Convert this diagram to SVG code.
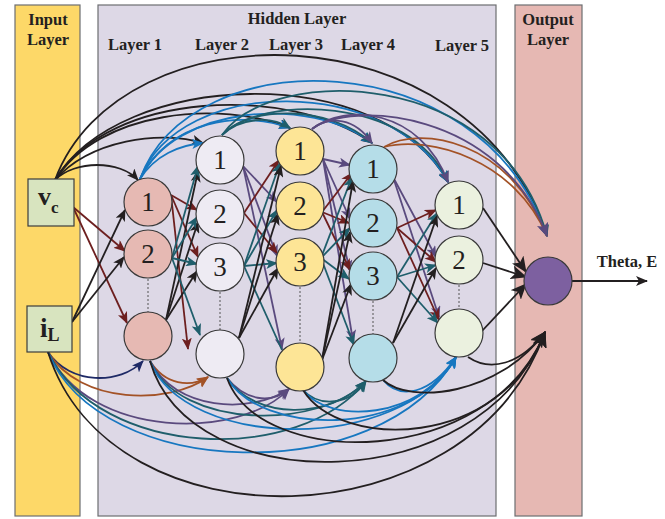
<svg xmlns="http://www.w3.org/2000/svg" width="665" height="519" viewBox="0 0 665 519">
<style>
.hdr{font-family:"Liberation Serif","Times New Roman",serif;font-weight:bold;font-size:16.5px;fill:#231F20;text-anchor:middle}
.num{font-family:"Liberation Serif","Times New Roman",serif;font-size:27px;fill:#231F20;text-anchor:middle}
.c path,.c line{fill:none;stroke-width:1.8}
.k{stroke:#231F20}.m{stroke:#6D1F1F}.t{stroke:#1F5E6B}.p{stroke:#5A4A7E}.b{stroke:#1777C0}.r{stroke:#A35226}.n{stroke:#1E2A66}
.nd{stroke:#3a3a3a;stroke-width:1.2}
.dot{stroke:#555;stroke-width:1;stroke-dasharray:2 2}
</style>
<defs>
<marker id="aK" markerUnits="userSpaceOnUse" markerWidth="12" markerHeight="10" refX="11" refY="5" orient="auto"><path d="M0,0 L12,5 L0,10 L3,5 z" fill="#231F20"/></marker>
<marker id="aM" markerUnits="userSpaceOnUse" markerWidth="12" markerHeight="10" refX="11" refY="5" orient="auto"><path d="M0,0 L12,5 L0,10 L3,5 z" fill="#6D1F1F"/></marker>
<marker id="aT" markerUnits="userSpaceOnUse" markerWidth="12" markerHeight="10" refX="11" refY="5" orient="auto"><path d="M0,0 L12,5 L0,10 L3,5 z" fill="#1F5E6B"/></marker>
<marker id="aP" markerUnits="userSpaceOnUse" markerWidth="12" markerHeight="10" refX="11" refY="5" orient="auto"><path d="M0,0 L12,5 L0,10 L3,5 z" fill="#5A4A7E"/></marker>
<marker id="aB" markerUnits="userSpaceOnUse" markerWidth="12" markerHeight="10" refX="11" refY="5" orient="auto"><path d="M0,0 L12,5 L0,10 L3,5 z" fill="#1777C0"/></marker>
<marker id="aR" markerUnits="userSpaceOnUse" markerWidth="12" markerHeight="10" refX="11" refY="5" orient="auto"><path d="M0,0 L12,5 L0,10 L3,5 z" fill="#A35226"/></marker>
<marker id="aN" markerUnits="userSpaceOnUse" markerWidth="12" markerHeight="10" refX="11" refY="5" orient="auto"><path d="M0,0 L12,5 L0,10 L3,5 z" fill="#1E2A66"/></marker>
<marker id="aKb" markerUnits="userSpaceOnUse" markerWidth="16" markerHeight="14" refX="15" refY="7" orient="auto"><path d="M0,0 L16,7 L0,14 L4,7 z" fill="#231F20"/></marker>
<marker id="aPb" markerUnits="userSpaceOnUse" markerWidth="14" markerHeight="12" refX="13" refY="6" orient="auto"><path d="M0,0 L14,6 L0,12 L3,6 z" fill="#5A4A7E"/></marker>
</defs>

<g id="panels">
<rect x="15" y="5" width="65" height="511" fill="#FDD868" stroke="#6D6E71" stroke-width="1.2"/>
<rect x="98" y="5" width="398" height="511" fill="#DDD8E6" stroke="#6D6E71" stroke-width="1.2"/>
<rect x="515" y="5" width="67" height="511" fill="#E6B8B3" stroke="#6D6E71" stroke-width="1.2"/>
<text class="hdr" x="48" y="25">Input</text>
<text class="hdr" x="48" y="45">Layer</text>
<text class="hdr" x="297" y="24">Hidden Layer</text>
<text class="hdr" x="135" y="50">Layer 1</text>
<text class="hdr" x="222" y="50">Layer 2</text>
<text class="hdr" x="296" y="50">Layer 3</text>
<text class="hdr" x="368" y="50">Layer 4</text>
<text class="hdr" x="462" y="51">Layer 5</text>
<text class="hdr" x="548" y="25">Output</text>
<text class="hdr" x="548" y="45">Layer</text>
<text class="hdr" x="627" y="267">Theta, E</text>
</g>

<g id="connectors" class="c">
<!-- top skip arcs -->
<path class="k" marker-end="url(#aK)" d="M55,180 C75,160 120,160 138,180"/>
<path class="k" marker-end="url(#aK)" d="M55,180 C90,140 160,130 203,143"/>
<path class="k" marker-end="url(#aK)" d="M55,180 C100,110 220,100 290,128"/>
<path class="k" marker-end="url(#aK)" d="M55,180 C110,90 290,85 372,143"/>
<path class="k" marker-end="url(#aK)" d="M55,180 C120,70 380,60 448,182"/>
<path class="k" marker-end="url(#aK)" d="M55,180 C120,5 470,5 547,236"/>
<path class="b" marker-end="url(#aB)" d="M140,179 C155,155 180,145 203,143"/>
<path class="b" marker-end="url(#aB)" d="M140,179 C170,120 240,110 290,128"/>
<path class="b" marker-end="url(#aB)" d="M140,179 C175,105 310,95 372,143"/>
<path class="b" marker-end="url(#aB)" d="M140,179 C180,75 390,75 448,182"/>
<path class="b" marker-end="url(#aB)" d="M140,179 C190,40 480,40 547,236"/>
<path class="t" marker-end="url(#aT)" d="M222,135 C240,118 270,115 290,128"/>
<path class="t" marker-end="url(#aT)" d="M222,135 C250,105 330,105 372,143"/>
<path class="t" marker-end="url(#aT)" d="M222,135 C260,95 410,95 448,182"/>
<path class="t" marker-end="url(#aT)" d="M222,135 C270,65 500,65 547,236"/>
<path class="r" d="M384,147 C420,125 510,140 547,236"/>
<path class="r" d="M384,147 C430,135 515,160 547,236"/>
<path class="p" marker-end="url(#aP)" d="M312,129 C330,115 355,118 372,143"/>
<path class="p" marker-end="url(#aP)" d="M312,129 C345,103 420,108 448,182"/>
<path class="p" marker-end="url(#aPb)" d="M312,129 C350,100 500,110 547,236"/>

<!-- bottom skip arcs -->
<path class="n" marker-end="url(#aN)" d="M48,352 C70,385 120,385 143,361"/>
<path class="r" marker-end="url(#aR)" d="M48,352 C80,405 170,405 208,377"/>
<path class="r" marker-end="url(#aR)" d="M150,361 C165,385 190,388 208,377"/>
<path class="p" marker-end="url(#aP)" d="M48,352 C90,440 240,440 289,389"/>
<path class="p" marker-end="url(#aP)" d="M150,361 C175,410 250,415 289,389"/>
<path class="p" marker-end="url(#aP)" d="M227,378 C245,400 270,405 289,389"/>
<path class="t" marker-end="url(#aT)" d="M48,352 C100,460 300,465 366,381"/>
<path class="t" marker-end="url(#aT)" d="M150,361 C180,430 320,430 366,381"/>
<path class="t" marker-end="url(#aT)" d="M227,378 C255,420 330,420 366,381"/>
<path class="t" marker-end="url(#aT)" d="M303,390 C320,408 350,405 366,381"/>
<path class="b" marker-end="url(#aB)" d="M48,352 C100,480 380,490 456,357"/>
<path class="b" marker-end="url(#aB)" d="M150,361 C185,450 400,455 456,357"/>
<path class="b" marker-end="url(#aB)" d="M227,378 C260,435 410,440 456,357"/>
<path class="b" marker-end="url(#aB)" d="M303,390 C330,425 420,420 456,357"/>
<path class="b" marker-end="url(#aB)" d="M383,380 C400,400 430,395 456,357"/>
<path class="k" marker-end="url(#aKb)" d="M48,352 C110,550 470,545 545,332"/>
<path class="k" marker-end="url(#aKb)" d="M150,361 C190,500 480,500 545,332"/>
<path class="k" marker-end="url(#aKb)" d="M227,378 C260,470 490,470 545,332"/>
<path class="k" marker-end="url(#aKb)" d="M303,390 C340,450 500,450 545,332"/>
<path class="k" marker-end="url(#aKb)" d="M383,380 C410,405 500,395 545,332"/>
<path class="k" marker-end="url(#aKb)" d="M468,357 C490,372 520,365 545,332"/>

<!-- input to layer 1 -->
<line class="m" marker-end="url(#aM)" x1="73" y1="207" x2="125" y2="251"/>
<line class="m" marker-end="url(#aM)" x1="73" y1="207" x2="127" y2="323"/>
<line class="k" marker-end="url(#aK)" x1="72" y1="322" x2="125" y2="210"/>
<line class="k" marker-end="url(#aK)" x1="72" y1="322" x2="124" y2="257"/>

<!-- layer 1 to layer 2 -->
<line class="m" marker-end="url(#aM)" x1="171" y1="195" x2="197" y2="210"/>
<line class="m" marker-end="url(#aM)" x1="171" y1="195" x2="198" y2="257"/>
<line class="m" marker-end="url(#aM)" x1="171" y1="195" x2="188" y2="349"/>
<line class="k" marker-end="url(#aK)" x1="166" y1="320" x2="198" y2="171"/>
<line class="k" marker-end="url(#aK)" x1="166" y1="320" x2="198" y2="222"/>
<line class="k" marker-end="url(#aK)" x1="166" y1="320" x2="197" y2="271"/>
<line class="t" marker-end="url(#aT)" x1="172" y1="258" x2="198" y2="166"/>
<line class="t" marker-end="url(#aT)" x1="172" y1="258" x2="197" y2="217"/>
<line class="t" marker-end="url(#aT)" x1="172" y1="258" x2="197" y2="264"/>
<line class="t" marker-end="url(#aT)" x1="172" y1="258" x2="200" y2="335"/>

<!-- layer 2 to layer 3 -->
<line class="p" marker-end="url(#aP)" x1="243" y1="166" x2="277" y2="202"/>
<line class="p" marker-end="url(#aP)" x1="243" y1="166" x2="277" y2="256"/>
<line class="p" marker-end="url(#aP)" x1="243" y1="166" x2="282" y2="349"/>
<line class="m" marker-end="url(#aM)" x1="244" y1="213" x2="279" y2="160"/>
<line class="m" marker-end="url(#aM)" x1="244" y1="213" x2="277" y2="253"/>
<line class="t" marker-end="url(#aT)" x1="244" y1="266" x2="280" y2="163"/>
<line class="t" marker-end="url(#aT)" x1="244" y1="266" x2="277" y2="210"/>
<line class="t" marker-end="url(#aT)" x1="244" y1="266" x2="277" y2="263"/>
<line class="t" x1="244" y1="266" x2="282" y2="350"/>
<line class="k" marker-end="url(#aK)" x1="239" y1="338" x2="281" y2="166"/>
<line class="k" marker-end="url(#aK)" x1="239" y1="338" x2="278" y2="214"/>
<line class="k" marker-end="url(#aK)" x1="239" y1="338" x2="278" y2="268"/>

<!-- layer 3 to layer 4 -->
<line class="p" marker-end="url(#aP)" x1="323" y1="159" x2="350" y2="165"/>
<line class="p" marker-end="url(#aP)" x1="323" y1="159" x2="350" y2="219"/>
<line class="p" marker-end="url(#aP)" x1="323" y1="159" x2="350" y2="271"/>
<line class="p" marker-end="url(#aP)" x1="323" y1="159" x2="353" y2="341"/>
<line class="m" marker-end="url(#aM)" x1="322" y1="212" x2="352" y2="173"/>
<line class="m" marker-end="url(#aM)" x1="322" y1="212" x2="349" y2="223"/>
<line class="m" marker-end="url(#aM)" x1="322" y1="212" x2="350" y2="270"/>
<line class="t" marker-end="url(#aT)" x1="321" y1="258" x2="352" y2="177"/>
<line class="t" marker-end="url(#aT)" x1="321" y1="258" x2="350" y2="228"/>
<line class="t" marker-end="url(#aT)" x1="321" y1="258" x2="349" y2="279"/>
<line class="t" marker-end="url(#aT)" x1="321" y1="258" x2="354" y2="345"/>
<line class="k" marker-end="url(#aK)" x1="322" y1="360" x2="353" y2="181"/>
<line class="k" marker-end="url(#aK)" x1="322" y1="360" x2="350" y2="232"/>
<line class="k" marker-end="url(#aK)" x1="322" y1="360" x2="351" y2="284"/>

<!-- layer 4 to layer 5 -->
<line class="p" marker-end="url(#aP)" x1="393" y1="177" x2="436" y2="257"/>
<line class="p" marker-end="url(#aP)" x1="393" y1="177" x2="439" y2="317"/>
<line class="m" marker-end="url(#aM)" x1="397" y1="228" x2="436" y2="210"/>
<line class="m" marker-end="url(#aM)" x1="397" y1="228" x2="436" y2="262"/>
<line class="m" marker-end="url(#aM)" x1="397" y1="228" x2="439" y2="320"/>
<line class="t" marker-end="url(#aT)" x1="397" y1="277" x2="437" y2="213"/>
<line class="t" marker-end="url(#aT)" x1="397" y1="277" x2="436" y2="265"/>
<line class="t" marker-end="url(#aT)" x1="397" y1="277" x2="438" y2="323"/>
<line class="k" marker-end="url(#aK)" x1="393" y1="343" x2="437" y2="216"/>
<line class="k" marker-end="url(#aK)" x1="393" y1="343" x2="436" y2="268"/>

<!-- layer 5 to output -->
<line class="k" marker-end="url(#aKb)" x1="483" y1="208" x2="526" y2="272"/>
<line class="k" marker-end="url(#aKb)" x1="483" y1="263" x2="526" y2="277"/>
<line class="k" marker-end="url(#aKb)" x1="482" y1="331" x2="526" y2="284"/>
<line class="k" marker-end="url(#aK)" x1="572" y1="281" x2="647" y2="281"/>
</g>

<g id="dots">
<line class="dot" x1="148" y1="279" x2="148" y2="312"/>
<line class="dot" x1="220" y1="292" x2="220" y2="330"/>
<line class="dot" x1="300" y1="287" x2="300" y2="343"/>
<line class="dot" x1="373" y1="301" x2="373" y2="334"/>
<line class="dot" x1="459" y1="285" x2="459" y2="309"/>
</g>

<g id="in-vc"><rect x="28" y="179" width="46" height="47" fill="#D8E4BF" stroke="#3C3C3C" stroke-width="1.2"/><text x="38" y="205" font-family="Liberation Serif, serif" font-weight="bold" font-size="26" fill="#231F20">v<tspan font-size="17" dy="8">c</tspan></text></g>
<g id="in-il"><rect x="27" y="306" width="45" height="46" fill="#D8E4BF" stroke="#3C3C3C" stroke-width="1.2"/><text x="40" y="337" font-family="Liberation Serif, serif" font-weight="bold" font-size="27" fill="#231F20">i<tspan font-size="18" dy="4">L</tspan></text></g>

<g id="l1n1"><circle class="nd" cx="148" cy="202" r="24" fill="#E6B9B3"/><text class="num" x="148" y="211">1</text></g>
<g id="l1n2"><circle class="nd" cx="148" cy="254" r="24" fill="#E6B9B3"/><text class="num" x="148" y="263">2</text></g>
<g id="l1nb"><circle class="nd" cx="148" cy="336" r="24" fill="#E6B9B3"/></g>

<g id="l2n1"><circle class="nd" cx="220" cy="160" r="24" fill="#EEEBF3"/><text class="num" x="220" y="169">1</text></g>
<g id="l2n2"><circle class="nd" cx="220" cy="214" r="24" fill="#EEEBF3"/><text class="num" x="220" y="223">2</text></g>
<g id="l2n3"><circle class="nd" cx="220" cy="267" r="24" fill="#EEEBF3"/><text class="num" x="220" y="276">3</text></g>
<g id="l2nb"><circle class="nd" cx="220" cy="354" r="24" fill="#EEEBF3"/></g>

<g id="l3n1"><circle class="nd" cx="300" cy="151" r="24" fill="#FDE596"/><text class="num" x="300" y="160">1</text></g>
<g id="l3n2"><circle class="nd" cx="300" cy="206" r="24" fill="#FDE596"/><text class="num" x="300" y="215">2</text></g>
<g id="l3n3"><circle class="nd" cx="300" cy="262" r="24" fill="#FDE596"/><text class="num" x="300" y="271">3</text></g>
<g id="l3nb"><circle class="nd" cx="300" cy="367" r="24" fill="#FDE596"/></g>

<g id="l4n1"><circle class="nd" cx="373" cy="169" r="24" fill="#B5DDE8"/><text class="num" x="373" y="178">1</text></g>
<g id="l4n2"><circle class="nd" cx="373" cy="223" r="24" fill="#B5DDE8"/><text class="num" x="373" y="232">2</text></g>
<g id="l4n3"><circle class="nd" cx="373" cy="276" r="24" fill="#B5DDE8"/><text class="num" x="373" y="285">3</text></g>
<g id="l4nb"><circle class="nd" cx="373" cy="358" r="24" fill="#B5DDE8"/></g>

<g id="l5n1"><circle class="nd" cx="459" cy="205" r="24" fill="#EBF1DF"/><text class="num" x="459" y="214">1</text></g>
<g id="l5n2"><circle class="nd" cx="459" cy="260" r="24" fill="#EBF1DF"/><text class="num" x="459" y="269">2</text></g>
<g id="l5nb"><circle class="nd" cx="459" cy="333" r="24" fill="#EBF1DF"/></g>

<g id="out"><circle class="nd" cx="548" cy="281" r="24" fill="#7D60A0"/></g>
</svg>
